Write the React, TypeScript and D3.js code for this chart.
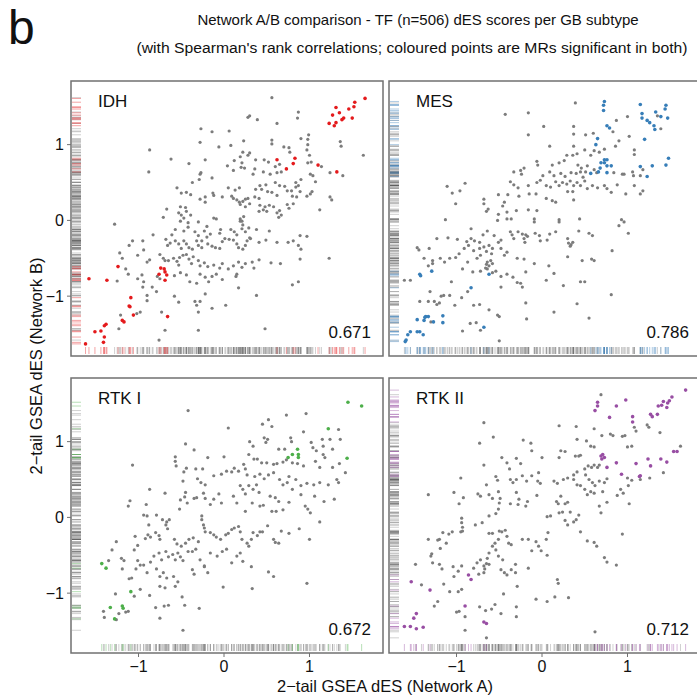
import React from "react";
import * as d3 from "d3";

// subtypes, Spearman rho, significant-MR colours
const subtypes = ["IDH", "MES", "RTK I", "RTK II"];
const rhos = ["0.671", "0.786", "0.672", "0.712"];
const sigColors = ["#e41a1c", "#377eb8", "#4daf4a", "#984ea3"];
const tickValues = [-1, 0, 1];

// [Network A dES, Network B dES]
const idhSig = [
  [1.65,1.61],[1.53,1.56],[1.52,1.5],[1.46,1.47],[1.31,1.49],[1.35,1.42],[1.27,1.39],[1.38,1.33],[1.4,1.35],[1.5,1.35],
  [1.23,1.28],[1.29,1.25],[1.31,1.29],[0.62,0.8],[0.83,0.82],[0.81,0.75],[0.73,0.68],[1.1,0.73],[1.32,0.64],[-1.58,-0.77],
  [-1.37,-0.79],[-1.24,-0.61],[-0.74,-0.63],[-0.7,-0.64],[-0.69,-0.68],[-0.76,-0.71],[-0.67,-0.72],[-0.69,-0.79],[-1.09,-1.02],
  [-1.11,-1.13],[-1.1,-1.14],[-1.06,-1.25],[-1.19,-1.32],[-1.17,-1.34],[-0.66,-1.27],[-1.38,-1.37],[-1.4,-1.39],[-1.44,-1.46],
  [-1.51,-1.47],[-1.4,-1.54],[-1.41,-1.61],[-1.62,-1.63],
];
const idhGrey = [
  [0.56,1.62],[0.3,1.38],[0.28,1.36],[0.39,1.33],[0.87,1.43],[0.86,1.35],[0.62,1.28],[-0.27,1.21],[-0.14,1.17],[0.06,1.18],
  [0.9,1.08],[0.99,1.13],[0.98,1.07],[0.56,1.06],[0.56,1.01],[0.23,1.05],[-0.28,1.03],[0.08,0.99],[-0.06,0.97],[0.7,0.97],
  [0.76,0.96],[0.77,0.9],[0.98,1.0],[0.97,0.93],[1.0,0.86],[1.02,0.77],[1.36,1.04],[1.37,0.98],[1.63,0.86],[-0.87,0.93],
  [0.22,0.9],[0.28,0.86],[0.3,0.89],[-0.62,0.81],[-0.22,0.8],[-0.41,0.75],[-0.88,0.64],[0.19,0.84],[0.21,0.76],[0.2,0.7],
  [0.12,0.79],[0.37,0.8],[0.47,0.8],[0.52,0.77],[0.6,0.71],[0.65,0.74],[0.36,0.68],[0.34,0.61],[0.04,0.72],[0.11,0.66],
  [0.24,0.69],[0.46,0.64],[0.54,0.61],[0.62,0.63],[0.67,0.64],[0.98,0.76],[1.14,0.71],[1.24,0.63],[1.39,0.59],[1.01,0.61],
  [1.04,0.59],[-0.28,0.61],[-0.27,0.63],[-0.14,0.56],[-0.37,0.5],[-0.29,0.54],[-0.55,0.43],[-0.5,0.36],[-0.44,0.37],[-0.39,0.34],
  [-0.28,0.28],[-0.22,0.31],[-0.22,0.24],[-0.13,0.36],[-0.12,0.33],[-0.02,0.31],[0.05,0.43],[0.13,0.4],[0.18,0.43],[0.09,0.32],
  [0.11,0.29],[0.15,0.27],[0.18,0.24],[0.19,0.21],[0.22,0.25],[0.25,0.28],[0.28,0.29],[0.3,0.22],[0.36,0.31],[0.41,0.29],
  [0.37,0.41],[0.42,0.46],[0.44,0.41],[0.49,0.47],[0.51,0.38],[0.56,0.37],[0.62,0.33],[0.6,0.5],[0.65,0.46],[0.71,0.45],
  [0.74,0.39],[0.79,0.39],[0.84,0.44],[0.8,0.32],[0.85,0.31],[0.89,0.38],[0.97,0.32],[1.01,0.35],[1.03,0.38],[0.84,0.5],
  [0.87,0.46],[0.9,0.54],[1.07,0.51],[1.24,0.31],[1.26,0.27],[0.42,0.2],[0.46,0.14],[0.5,0.12],[0.48,0.18],[0.53,0.2],
  [0.58,0.18],[0.62,0.1],[0.65,0.13],[0.64,0.04],[0.74,0.21],[0.76,0.16],[0.81,0.22],[1.12,0.14],[0.67,0.07],[0.41,0.12],
  [0.25,0.18],[0.19,0.02],[0.23,0.05],[-0.67,0.15],[-0.51,0.18],[-0.45,0.17],[-0.44,0.12],[-0.53,0.1],[-0.5,0.07],[-0.51,-0.01],
  [-0.47,0.03],[-0.42,-0.03],[-0.71,0.04],[-0.39,0.07],[-0.3,-0.02],[-0.2,-0.08],[-0.12,0.03],[-0.09,0.02],[-1.28,-0.05],[-0.57,-0.12],
  [-0.61,-0.19],[-0.47,-0.14],[-0.42,-0.09],[-0.34,-0.15],[-0.3,-0.2],[-0.23,-0.14],[-0.2,-0.22],[-0.26,-0.27],[-0.16,-0.18],[-0.05,-0.17],
  [-0.04,-0.12],[0.08,-0.12],[0.12,-0.15],[0.15,-0.19],[0.21,-0.11],[0.22,-0.06],[0.25,-0.15],[0.29,-0.1],[0.3,-0.23],[0.38,-0.12],
  [0.53,-0.14],[0.21,-0.01],[0.19,-0.01],[-0.83,-0.19],[-0.68,-0.25],[-0.66,-0.33],[-0.63,-0.3],[-0.57,-0.27],[-0.53,-0.31],[-0.5,-0.37],
  [-0.47,-0.27],[-0.44,-0.31],[-0.41,-0.36],[-0.37,-0.38],[-0.32,-0.27],[-0.3,-0.33],[-0.26,-0.36],[-0.19,-0.31],[-0.14,-0.34],[-0.1,-0.36],
  [-0.05,-0.37],[-0.02,-0.28],[0.01,-0.24],[0.06,-0.25],[0.11,-0.26],[0.15,-0.31],[0.17,-0.36],[0.22,-0.38],[0.25,-0.33],[0.27,-0.27],
  [0.31,-0.24],[0.41,-0.29],[0.49,-0.26],[0.62,-0.29],[0.75,-0.29],[0.81,-0.27],[0.89,-0.2],[0.97,-0.21],[0.87,-0.33],[0.9,-0.38],
  [-1.11,-0.33],[-1.07,-0.27],[-0.95,-0.27],[-1.22,-0.43],[-1.19,-0.5],[-1.01,-0.46],[-0.94,-0.39],[-1.15,-0.64],[-1.12,-0.71],[-0.9,-0.55],
  [-0.87,-0.52],[-0.75,-0.45],[-0.71,-0.5],[-0.69,-0.53],[-0.65,-0.53],[-0.59,-0.5],[-0.55,-0.54],[-0.53,-0.59],[-0.52,-0.49],[-0.48,-0.46],
  [-0.44,-0.45],[-0.41,-0.51],[-0.36,-0.48],[-0.38,-0.57],[-0.3,-0.53],[-0.28,-0.6],[-0.23,-0.56],[-0.19,-0.61],[-0.12,-0.59],[-0.05,-0.63],
  [-0.02,-0.57],[0.05,-0.64],[0.11,-0.6],[0.17,-0.55],[0.21,-0.62],[0.25,-0.57],[0.15,-0.71],[0.14,-0.74],[0.33,-0.55],[0.35,-0.63],
  [0.41,-0.52],[0.55,-0.56],[0.66,-0.57],[0.89,-0.51],[1.23,-0.5],[-0.96,-0.72],[-0.94,-0.81],[-0.95,-0.88],[-0.84,-0.88],[-0.79,-0.94],
  [-1.25,-0.8],[-1.01,-0.77],[-0.75,-0.77],[-0.78,-0.74],[-0.58,-0.73],[-0.51,-0.69],[-0.44,-0.72],[-0.4,-0.81],[-0.32,-0.83],[-0.28,-0.71],
  [-0.22,-0.75],[-0.18,-0.81],[-0.14,-0.74],[-0.09,-0.71],[-0.02,-0.78],[-0.22,-0.97],[-0.58,-1.0],[-0.53,-1.08],[-0.34,-1.07],[-0.32,-1.12],
  [-0.28,-1.07],[-0.3,-1.21],[-0.14,-1.16],[0.02,-1.12],[0.38,-0.99],[0.17,-0.89],[0.8,-0.85],[0.87,-0.81],[-1.23,-1.43],[-1.21,-1.25],
  [-1.02,-1.23],[-0.98,-1.21],[-0.69,-1.45],[-0.73,-1.21],[-0.3,-1.45],[-0.76,-1.58],[0.48,-1.43],[-0.9,-1.06],[-0.9,-0.99],
];

const mesSig = [
  [0.73,1.57],[0.72,1.52],[0.72,1.45],[1.15,1.53],[1.17,1.41],[1.17,1.35],[1.23,1.32],[1.26,1.29],[1.33,1.43],[1.39,1.37],
  [1.45,1.52],[1.44,1.47],[1.47,1.35],[1.31,1.25],[1.32,1.2],[0.76,1.25],[0.79,1.22],[0.65,1.08],[0.63,1.0],[1.2,1.07],
  [0.73,0.8],[0.76,0.8],[0.73,0.76],[0.76,0.72],[0.81,0.72],[0.68,0.69],[0.66,0.64],[0.76,0.63],[0.57,0.62],[0.69,0.76],
  [1.15,0.71],[1.23,0.58],[1.29,0.72],[1.45,0.73],[1.48,0.82],[-1.43,-0.71],[-1.42,-0.73],[-1.29,-0.67],[-0.83,-0.89],[-0.62,-0.71],
  [-1.36,-1.27],[-1.37,-1.28],[-1.33,-1.27],[-1.38,-1.32],[-1.27,-1.34],[-1.46,-1.31],[-1.43,-1.47],[-1.46,-1.47],[-1.39,-1.51],[-1.54,-1.47],
  [-1.57,-1.51],[-1.59,-1.58],[-1.6,-1.6],[-1.16,-1.26],[-1.16,-1.35],[-0.68,-1.41],
];
const mesGrey = [
  [0.39,1.55],[-0.43,1.4],[-0.16,1.42],[0.02,1.24],[0.37,1.24],[0.87,1.32],[1.0,1.37],[-0.16,1.13],[0.37,1.14],[0.51,1.13],
  [0.6,1.15],[0.83,1.17],[0.9,1.05],[0.86,0.98],[1.02,1.11],[1.08,0.93],[1.08,0.87],[1.39,1.21],[1.35,1.38],[0.09,0.98],
  [0.37,0.98],[0.29,0.86],[0.36,0.86],[0.41,0.88],[0.5,0.93],[0.57,0.86],[0.61,0.92],[0.67,0.9],[0.73,0.94],[-0.06,0.78],
  [-0.05,0.73],[0.12,0.73],[0.2,0.76],[0.26,0.79],[-0.21,0.69],[-0.24,0.61],[-0.33,0.64],[-0.25,0.66],[0.01,0.59],[0.09,0.64],
  [0.14,0.59],[0.22,0.62],[0.27,0.58],[0.34,0.63],[0.4,0.62],[0.45,0.64],[0.48,0.57],[0.42,0.73],[0.46,0.69],[0.51,0.64],
  [0.53,0.72],[0.61,0.67],[0.64,0.63],[0.84,0.63],[0.94,0.61],[0.96,0.61],[1.06,0.64],[1.07,0.59],[1.18,0.67],[1.15,0.59],
  [-0.37,0.51],[-0.33,0.47],[-0.28,0.43],[-0.16,0.46],[-0.06,0.5],[-0.02,0.53],[0.05,0.46],[0.1,0.44],[0.16,0.51],[0.2,0.46],
  [0.24,0.5],[0.29,0.48],[0.33,0.52],[0.37,0.46],[0.41,0.5],[0.45,0.46],[0.5,0.52],[0.53,0.42],[0.3,0.38],[0.36,0.38],
  [0.37,0.27],[0.59,0.46],[0.65,0.43],[0.73,0.46],[0.76,0.42],[0.81,0.37],[0.88,0.47],[0.98,0.35],[1.08,0.46],[1.15,0.35],
  [1.18,0.39],[-1.11,0.45],[-0.9,0.49],[-0.96,0.39],[-1.05,0.36],[-1.01,0.22],[-0.68,0.28],[-0.68,0.22],[-0.51,0.34],[-0.4,0.34],
  [-0.27,0.32],[-0.15,0.35],[-0.07,0.35],[0.05,0.29],[0.12,0.26],[0.16,0.24],[-0.44,0.24],[-0.46,0.19],[-0.63,0.15],[-0.65,0.12],
  [-0.51,0.08],[-0.41,0.02],[-0.36,0.02],[-0.3,0.13],[-0.16,0.14],[-0.06,0.13],[-0.09,0.02],[-0.09,-0.02],[0.2,0.01],[0.44,0.02],
  [-1.13,0.01],[-0.52,0.0],[-0.41,0.11],[-0.83,-0.11],[-0.37,-0.15],[-0.35,-0.19],[-0.33,-0.24],[-0.28,-0.15],[-0.23,-0.18],[-0.21,-0.24],
  [-0.19,-0.19],[-0.17,-0.21],[-0.2,-0.29],[-0.64,-0.14],[-0.69,-0.19],[-0.08,-0.17],[-0.03,-0.2],[-0.02,-0.27],[0.06,-0.26],[0.09,-0.18],
  [0.16,-0.15],[0.3,-0.24],[0.31,-0.3],[0.34,-0.32],[0.36,-0.29],[0.2,-0.02],[0.43,-0.14],[0.55,-0.17],[0.59,-0.2],[-0.56,-0.2],
  [-0.51,-0.29],[-0.48,-0.26],[-1.23,-0.24],[-1.1,-0.23],[-0.99,-0.25],[-0.88,-0.28],[-0.83,-0.24],[-0.79,-0.27],[-0.73,-0.29],[-1.46,-0.36],
  [-1.44,-0.39],[-1.32,-0.37],[-1.38,-0.5],[-1.19,-0.5],[-1.14,-0.55],[-1.08,-0.5],[-1.01,-0.49],[-0.97,-0.44],[-0.91,-0.37],[-0.86,-0.33],
  [-0.8,-0.4],[-0.73,-0.37],[-0.68,-0.35],[-0.65,-0.41],[-0.62,-0.33],[-0.58,-0.37],[-0.59,-0.44],[-0.48,-0.37],[-0.44,-0.46],[-0.41,-0.42],
  [-0.29,-0.5],[-0.21,-0.51],[-0.64,-0.55],[-0.65,-0.58],[-0.66,-0.63],[-0.64,-0.64],[-0.62,-0.6],[-0.6,-0.53],[-0.58,-0.57],[-0.76,-0.5],
  [-0.72,-0.46],[-0.87,-0.55],[-0.93,-0.64],[-0.81,-0.68],[-0.72,-0.67],[-0.58,-0.69],[-0.54,-0.67],[-0.48,-0.74],[-0.41,-0.71],[-0.34,-0.75],
  [-0.29,-0.82],[-0.25,-0.83],[-0.23,-0.88],[-0.09,-0.57],[0.08,-0.6],[0.3,-0.48],[0.33,-0.34],[0.47,-0.53],[0.61,-0.53],[0.58,-0.51],
  [0.82,-0.4],[0.45,-0.81],[0.5,-0.81],[0.25,-0.86],[0.9,-0.07],[1.01,-0.17],[0.93,0.01],[0.96,-0.02],[-1.54,-0.79],[-1.61,-0.79],
  [-1.31,-0.94],[-1.18,-1.0],[-1.15,-0.99],[-1.08,-0.99],[-1.02,-1.12],[-0.94,-1.02],[-1.2,-1.09],[-1.23,-1.11],[-1.33,-1.07],[-1.26,-1.07],
  [-1.43,-1.07],[-0.87,-0.94],[-0.8,-1.12],[-0.73,-1.11],[-0.62,-1.18],[-0.5,-1.27],[-0.52,-1.25],[-0.84,-1.36],[-0.77,-1.35],[-0.72,-1.45],
  [-0.93,-1.46],[-0.5,-1.59],[-0.18,-1.3],[-0.19,-1.09],[0.14,-1.21],[0.41,-1.1],[0.55,-1.29],[-1.3,-1.34],[-1.28,-0.53],[-1.28,-0.57],
  [-1.33,-0.6],[-1.06,-0.81],[-0.48,-0.88],[-0.19,-0.68],[0.05,-0.79],[0.14,-0.7],[0.81,-0.98],
];

const rtk1Sig = [
  [1.45,1.52],[1.61,1.47],[1.22,1.17],[1.44,0.78],[0.86,0.9],[0.87,0.83],[0.87,0.79],[0.8,0.83],[0.75,0.79],[-1.43,-0.61],
  [-1.38,-0.67],[-1.09,-0.98],[-1.33,-1.19],[-1.19,-1.17],[-1.18,-1.2],[-1.28,-1.34],
];
const rtk1Grey = [
  [-0.42,1.41],[0.52,1.29],[0.45,1.23],[0.56,1.2],[0.73,1.35],[0.96,1.37],[0.05,1.18],[0.93,1.13],[1.15,1.03],[1.34,1.16],
  [-0.45,0.97],[-0.35,0.89],[-0.57,0.8],[-0.57,0.74],[-0.56,0.68],[-1.07,0.69],[0.3,1.0],[0.34,0.94],[0.47,1.05],[0.51,1.03],
  [0.49,0.99],[0.64,0.9],[0.71,0.9],[0.78,1.05],[0.79,1.0],[1.02,0.99],[1.04,0.92],[1.08,0.88],[1.16,0.94],[1.24,1.03],
  [1.36,1.03],[1.27,0.9],[-0.19,0.79],[0.0,0.8],[0.29,0.83],[0.35,0.77],[0.39,0.77],[0.44,0.72],[0.5,0.72],[0.58,0.7],
  [0.62,0.71],[0.69,0.73],[0.73,0.76],[0.8,0.72],[0.86,0.71],[0.93,0.68],[1.07,0.74],[1.12,0.66],[1.16,0.83],[1.18,0.79],
  [1.27,0.66],[1.35,0.71],[1.42,0.59],[1.32,0.5],[1.34,0.46],[-0.44,0.65],[-0.47,0.6],[-0.48,0.48],[-0.33,0.64],[-0.25,0.64],
  [-0.31,0.51],[-0.27,0.46],[-0.22,0.43],[-0.12,0.55],[-0.03,0.57],[0.03,0.61],[0.09,0.6],[0.12,0.65],[0.17,0.61],[0.23,0.7],
  [0.25,0.64],[0.27,0.56],[0.19,0.42],[0.22,0.37],[0.25,0.31],[0.29,0.42],[0.34,0.37],[0.38,0.43],[0.41,0.33],[0.36,0.54],
  [0.42,0.57],[0.47,0.51],[0.52,0.56],[0.58,0.59],[0.65,0.5],[0.69,0.43],[0.74,0.46],[0.76,0.54],[0.84,0.5],[0.9,0.42],
  [0.97,0.45],[1.05,0.43],[1.12,0.46],[1.22,0.43],[1.06,0.28],[1.17,0.21],[1.29,0.24],[0.95,0.15],[0.98,0.11],[1.01,0.06],
  [1.12,-0.06],[0.76,0.2],[0.9,0.3],[0.8,0.37],[0.54,0.28],[0.6,0.26],[0.64,0.21],[0.56,0.08],[0.61,0.08],[0.69,0.1],
  [0.46,0.16],[0.42,0.15],[0.33,0.19],[0.25,0.08],[0.15,0.19],[0.11,0.28],[-0.06,0.31],[-0.12,0.24],[-0.03,0.19],[-0.24,0.32],
  [-0.22,0.25],[-0.16,0.17],[-0.45,0.33],[-0.46,0.27],[-0.43,0.19],[-0.51,0.23],[-0.52,0.11],[-0.35,0.25],[-0.32,0.26],[-0.69,0.32],
  [-0.87,0.37],[-1.1,0.22],[-1.12,0.15],[-0.91,0.17],[-0.94,0.03],[-0.9,0.02],[-0.79,0.03],[-0.72,-0.03],[-0.67,-0.06],[-0.68,-0.1],
  [-0.66,-0.15],[-0.64,-0.03],[-0.88,-0.1],[-0.89,-0.23],[-0.86,-0.26],[-1.04,-0.25],[-1.01,-0.37],[-0.92,-0.28],[-0.8,-0.2],[-0.76,-0.24],
  [-0.75,-0.29],[-0.58,-0.29],[-0.55,-0.35],[-0.5,-0.38],[-0.45,-0.34],[-0.41,-0.29],[-0.36,-0.27],[-0.3,-0.32],[-0.26,0.02],[-0.26,-0.03],
  [-0.24,-0.1],[-0.23,-0.14],[-0.22,-0.19],[-0.16,-0.2],[-0.12,-0.23],[-0.09,-0.26],[-0.04,-0.29],[0.02,-0.23],[0.05,-0.21],[0.09,-0.16],
  [0.12,-0.14],[0.17,-0.12],[0.19,-0.19],[0.21,-0.29],[0.27,-0.34],[0.29,-0.38],[0.32,-0.29],[0.34,-0.2],[0.39,-0.24],[0.42,-0.19],
  [0.45,-0.19],[0.51,-0.11],[0.58,-0.29],[0.6,-0.33],[0.64,-0.34],[0.67,-0.18],[0.76,-0.21],[0.88,-0.15],[1.0,-0.29],[-1.26,-0.32],
  [-1.31,-0.43],[-1.35,-0.57],[-1.2,-0.54],[-1.17,-0.57],[-1.19,-0.68],[-1.05,-0.43],[-1.01,-0.57],[-0.98,-0.63],[-1.03,-0.68],[-1.08,-0.8],
  [-1.11,-0.81],[-0.94,-0.63],[-0.9,-0.73],[-0.86,-0.59],[-0.82,-0.51],[-0.76,-0.47],[-0.73,-0.56],[-0.68,-0.45],[-0.65,-0.52],[-0.6,-0.49],
  [-0.57,-0.56],[-0.54,-0.47],[-0.51,-0.52],[-0.48,-0.57],[-0.42,-0.45],[-0.37,-0.45],[-0.33,-0.42],[-0.28,-0.56],[-0.23,-0.64],[-0.16,-0.47],
  [-0.08,-0.51],[-0.02,-0.45],[0.03,-0.42],[0.09,-0.6],[0.15,-0.51],[0.19,-0.47],[0.22,-0.58],[0.32,-0.65],[-0.79,-0.68],[-0.75,-0.78],
  [-0.71,-0.73],[-0.67,-0.8],[-0.59,-0.78],[-0.57,-0.91],[-0.54,-0.85],[-0.75,-0.91],[-0.69,-0.93],[-0.98,-0.95],[-1.05,-1.04],[-0.87,-1.03],
  [-1.27,-1.01],[-1.41,-1.24],[-1.4,-1.32],[-1.26,-1.35],[-1.23,-1.27],[-1.15,-1.25],[-1.12,-1.24],[-0.8,-1.19],[-0.7,-1.17],[-0.65,-1.16],
  [-0.75,-1.33],[-0.49,-1.05],[-0.46,-1.16],[-0.48,-1.49],[-0.29,-1.2],[-0.01,-0.92],[0.33,-0.94],[0.52,-0.72],[0.58,-0.78],[0.97,-0.87],
  [-0.35,-0.75],[-0.37,-0.69],[-0.23,-0.65],[-0.19,-0.73],
];

const rtk2Sig = [
  [1.68,1.68],[1.52,1.59],[1.49,1.54],[1.47,1.51],[1.42,1.53],[1.46,1.45],[1.4,1.48],[1.36,1.47],[1.27,1.36],[1.29,1.33],
  [1.35,1.36],[1.58,0.87],[1.54,0.87],[1.46,0.73],[1.39,0.77],[1.27,0.68],[1.24,0.77],[1.15,0.55],[1.14,0.54],[1.1,0.71],
  [1.06,1.26],[1.06,1.33],[0.98,1.55],[0.87,1.47],[0.79,1.32],[0.65,1.52],[0.65,1.47],[0.62,1.41],[0.69,0.81],[0.7,0.77],
  [0.73,0.79],[0.71,0.83],[0.76,0.66],[0.87,0.72],[0.93,0.57],[-1.31,-0.96],[-1.53,-0.85],[-0.83,-0.82],[-0.86,-0.76],[-1.47,-1.27],
  [-1.5,-1.33],[-1.61,-1.44],[-1.54,-1.44],[-1.47,-1.47],[-1.39,-1.45],[-0.9,-1.17],[-0.68,-1.38],[-0.65,-1.4],
];
const rtk2Grey = [
  [0.69,1.62],[-0.68,1.25],[-0.57,1.06],[-0.73,0.98],[-0.68,0.69],[0.2,1.21],[0.4,1.2],[0.61,1.17],[0.7,1.08],[0.8,1.1],
  [0.83,1.08],[0.94,1.07],[0.97,1.08],[1.08,1.19],[1.1,1.14],[1.23,1.22],[1.25,1.19],[1.38,1.12],[1.62,0.94],[0.41,1.03],
  [0.52,1.01],[0.57,0.94],[0.61,0.93],[1.0,0.93],[1.05,0.94],[-0.22,1.02],[-0.13,0.98],[-0.12,0.88],[0.0,0.79],[0.2,0.79],
  [0.22,0.88],[0.27,0.87],[0.39,0.81],[0.43,0.81],[0.45,0.82],[-0.47,0.79],[-0.41,0.72],[-0.3,0.78],[-0.25,0.71],[-0.38,0.64],
  [-0.54,0.54],[-0.52,0.49],[-0.37,0.5],[-0.34,0.46],[-0.3,0.5],[-0.23,0.55],[-0.18,0.48],[-0.12,0.55],[-0.04,0.59],[-0.05,0.48],
  [-0.02,0.45],[-0.65,0.43],[-0.51,0.34],[-0.3,0.33],[0.14,0.48],[0.18,0.45],[0.25,0.5],[0.3,0.52],[0.37,0.5],[0.41,0.43],
  [0.45,0.42],[0.37,0.56],[0.41,0.6],[0.5,0.64],[0.51,0.56],[0.54,0.68],[0.58,0.66],[0.61,0.69],[0.65,0.66],[0.67,0.69],
  [0.55,0.5],[0.59,0.46],[0.62,0.42],[0.67,0.48],[0.73,0.46],[0.76,0.51],[0.5,0.37],[0.53,0.3],[0.57,0.34],[0.61,0.32],
  [0.71,0.34],[0.76,0.2],[0.88,0.29],[0.92,0.37],[0.95,0.32],[1.01,0.42],[1.02,0.18],[1.0,0.52],[1.05,0.49],[1.15,0.5],
  [1.26,0.52],[1.42,0.59],[-1.03,0.33],[-0.95,0.52],[-0.92,0.26],[-0.97,0.18],[-1.33,0.3],[-0.75,0.31],[-0.72,0.28],[-0.62,0.3],
  [-0.58,0.25],[-0.49,0.25],[-0.5,0.19],[-0.51,0.11],[-0.54,0.05],[-0.37,0.18],[-0.27,0.24],[-0.17,0.21],[-0.28,0.17],[-0.19,0.15],
  [-0.06,0.29],[0.06,0.01],[0.1,0.02],[0.17,0.21],[0.19,0.18],[0.22,0.28],[0.27,0.18],[0.3,0.2],[0.2,0.06],[0.24,0.07],
  [0.27,-0.04],[0.3,-0.1],[0.33,0.07],[0.37,-0.06],[0.4,-0.03],[0.43,0.03],[0.45,-0.19],[0.67,0.15],[0.69,0.06],[0.94,-0.22],
  [-0.94,-0.01],[-0.94,-0.07],[-0.93,-0.13],[-0.93,-0.18],[-1.05,-0.19],[-1.09,-0.22],[-1.16,-0.2],[-1.2,-0.29],[-1.22,-0.3],[-1.33,-0.29],
  [-0.95,-0.19],[-0.78,-0.1],[-0.7,-0.07],[-0.62,0.02],[-0.62,-0.21],[-0.58,-0.21],[-0.5,-0.18],[-0.47,-0.19],[-0.43,-0.17],[-0.41,-0.25],
  [-0.39,-0.34],[-0.36,-0.36],[-0.51,-0.29],[-0.55,-0.34],[-0.58,-0.38],[-0.62,-0.47],[-0.64,-0.54],[-0.65,-0.61],[-0.67,-0.68],[-0.62,-0.62],
  [-0.72,-0.56],[-0.76,-0.6],[-0.8,-0.67],[-0.74,-0.75],[-0.68,-0.64],[-0.68,-0.73],[-0.54,-0.43],[-0.51,-0.51],[-0.46,-0.56],[-0.48,-0.69],
  [-0.44,-0.73],[-0.41,-0.76],[-0.36,-0.69],[-0.31,-0.62],[-0.31,-0.73],[-0.29,-0.91],[-0.23,-0.29],[-0.16,-0.29],[-0.07,-0.32],[-0.04,-0.38],
  [-0.01,-0.44],[-0.16,-0.67],[-0.12,-0.44],[0.06,-0.5],[0.07,-0.2],[0.05,-0.29],[0.18,-0.82],[0.19,-0.87],[0.53,-0.31],[0.61,-0.33],
  [0.64,-0.38],[0.73,-0.53],[0.76,-0.59],[0.87,-0.63],[-1.12,-0.34],[-1.19,-0.41],[-1.29,-0.48],[-1.3,-0.51],[-1.28,-0.6],[-1.2,-0.62],
  [-1.17,-0.68],[-1.04,-0.65],[-0.98,-0.71],[-0.94,-0.64],[-1.03,-0.78],[-1.15,-0.88],[-1.08,-0.98],[-0.98,-0.98],[-0.94,-0.95],[-1.41,-0.89],
  [-1.48,-0.62],[-1.26,-1.17],[-1.22,-1.11],[-1.0,-1.25],[-0.97,-1.24],[-0.9,-1.31],[-0.73,-1.18],[-0.66,-1.23],[-0.59,-1.21],[-0.55,-1.15],
  [-0.48,-1.27],[-0.3,-1.31],[-0.3,-1.18],[-0.45,-1.01],[-0.07,-1.08],[0.06,-1.11],[0.15,-1.05],[0.31,-1.06],[-0.65,-1.59],[-0.9,-1.49],
  [0.62,-1.51],
];

const greyData = [idhGrey, mesGrey, rtk1Grey, rtk2Grey];
const sigData = [idhSig, mesSig, rtk1Sig, rtk2Sig];

const W = 697;
const H = 700;
const panelW = 312;
const panelH = 275;
const colX = [71, 389];
const rowY = [81, 378];
const font = '"Liberation Sans", Arial, Helvetica, sans-serif';
const fmt = (v: number) => (v < 0 ? "\u2212" + Math.abs(v) : String(v));

function Panel({ i }: { i: number }) {
  const col = i % 2;
  const row = Math.floor(i / 2);
  const x0 = colX[col];
  const y0 = rowY[row];
  const x = d3.scaleLinear().domain([-1.79, 1.86]).range([x0, x0 + panelW]);
  const y = d3.scaleLinear().domain([-1.79, 1.84]).range([y0 + panelH, y0]);
  const grey = greyData[i];
  const sig = sigData[i];
  const color = sigColors[i];
  const rugB0 = y0 + panelH - 9;
  const rugB1 = y0 + panelH - 2;

  return (
    <g>
      <g>
        {grey.map((d, k) => (
          <g key={"rg" + k} stroke="#555" strokeOpacity={0.28} strokeWidth={1}>
            <line x1={x(d[0])} x2={x(d[0])} y1={rugB0} y2={rugB1} />
            <line x1={x0 + 1} x2={x0 + 10} y1={y(d[1])} y2={y(d[1])} />
          </g>
        ))}
        {sig.map((d, k) => (
          <g key={"rs" + k} stroke={color} strokeOpacity={0.4} strokeWidth={1}>
            <line x1={x(d[0])} x2={x(d[0])} y1={rugB0} y2={rugB1} />
            <line x1={x0 + 1} x2={x0 + 10} y1={y(d[1])} y2={y(d[1])} />
          </g>
        ))}
      </g>
      {grey.map((d, k) => (
        <circle key={"g" + k} cx={x(d[0])} cy={y(d[1])} r={1.6} fill="#7c7c7c" />
      ))}
      {sig.map((d, k) => (
        <circle key={"s" + k} cx={x(d[0])} cy={y(d[1])} r={1.8} fill={color} />
      ))}
      <rect x={x0} y={y0} width={panelW} height={panelH} fill="none" stroke="#707070" strokeWidth={1.5} />
      <text x={x0 + 27} y={y0 + 26} fontSize={17} fill="#111">{subtypes[i]}</text>
      <text x={x0 + panelW - 12} y={y0 + panelH - 18} fontSize={17} fill="#111" textAnchor="end">{rhos[i]}</text>
      {row === 1 &&
        tickValues.map((t) => (
          <g key={"xt" + t}>
            <line x1={x(t)} x2={x(t)} y1={y0 + panelH} y2={y0 + panelH + 4} stroke="#707070" />
            <text x={x(t)} y={y0 + panelH + 19} fontSize={16} fill="#111" textAnchor="middle">{fmt(t)}</text>
          </g>
        ))}
      {col === 0 &&
        tickValues.map((t) => (
          <g key={"yt" + t}>
            <line x1={x0 - 4} x2={x0} y1={y(t)} y2={y(t)} stroke="#707070" />
            <text x={x0 - 7} y={y(t)} dy="0.35em" fontSize={16} fill="#111" textAnchor="end">{fmt(t)}</text>
          </g>
        ))}
    </g>
  );
}

export default function App() {
  return (
    <svg width={W} height={H} style={{ position: "absolute", left: 0, top: 0, fontFamily: font, background: "#fff" }}>
      <rect width={W} height={H} fill="#fff" />
      <text x={8} y={44} fontSize={48} fill="#111">b</text>
      <text x={418} y={25} fontSize={15} fill="#111" textAnchor="middle">
        Network A/B comparison - TF (n=506) dES scores per GB subtype
      </text>
      <text x={412} y={53} fontSize={15.5} fill="#111" textAnchor="middle" textLength={551} lengthAdjust="spacingAndGlyphs">
        (with Spearman's rank correlations; coloured points are MRs significant in both)
      </text>
      {subtypes.map((s, i) => (
        <Panel key={s} i={i} />
      ))}
      <text x={385} y={692} fontSize={16.5} fill="#111" textAnchor="middle">
        2{"\u2212"}tail GSEA dES (Network A)
      </text>
      <text transform="translate(42,366) rotate(-90)" fontSize={16.5} fill="#111" textAnchor="middle">
        2{"\u2212"}tail GSEA dES (Network B)
      </text>
    </svg>
  );
}
